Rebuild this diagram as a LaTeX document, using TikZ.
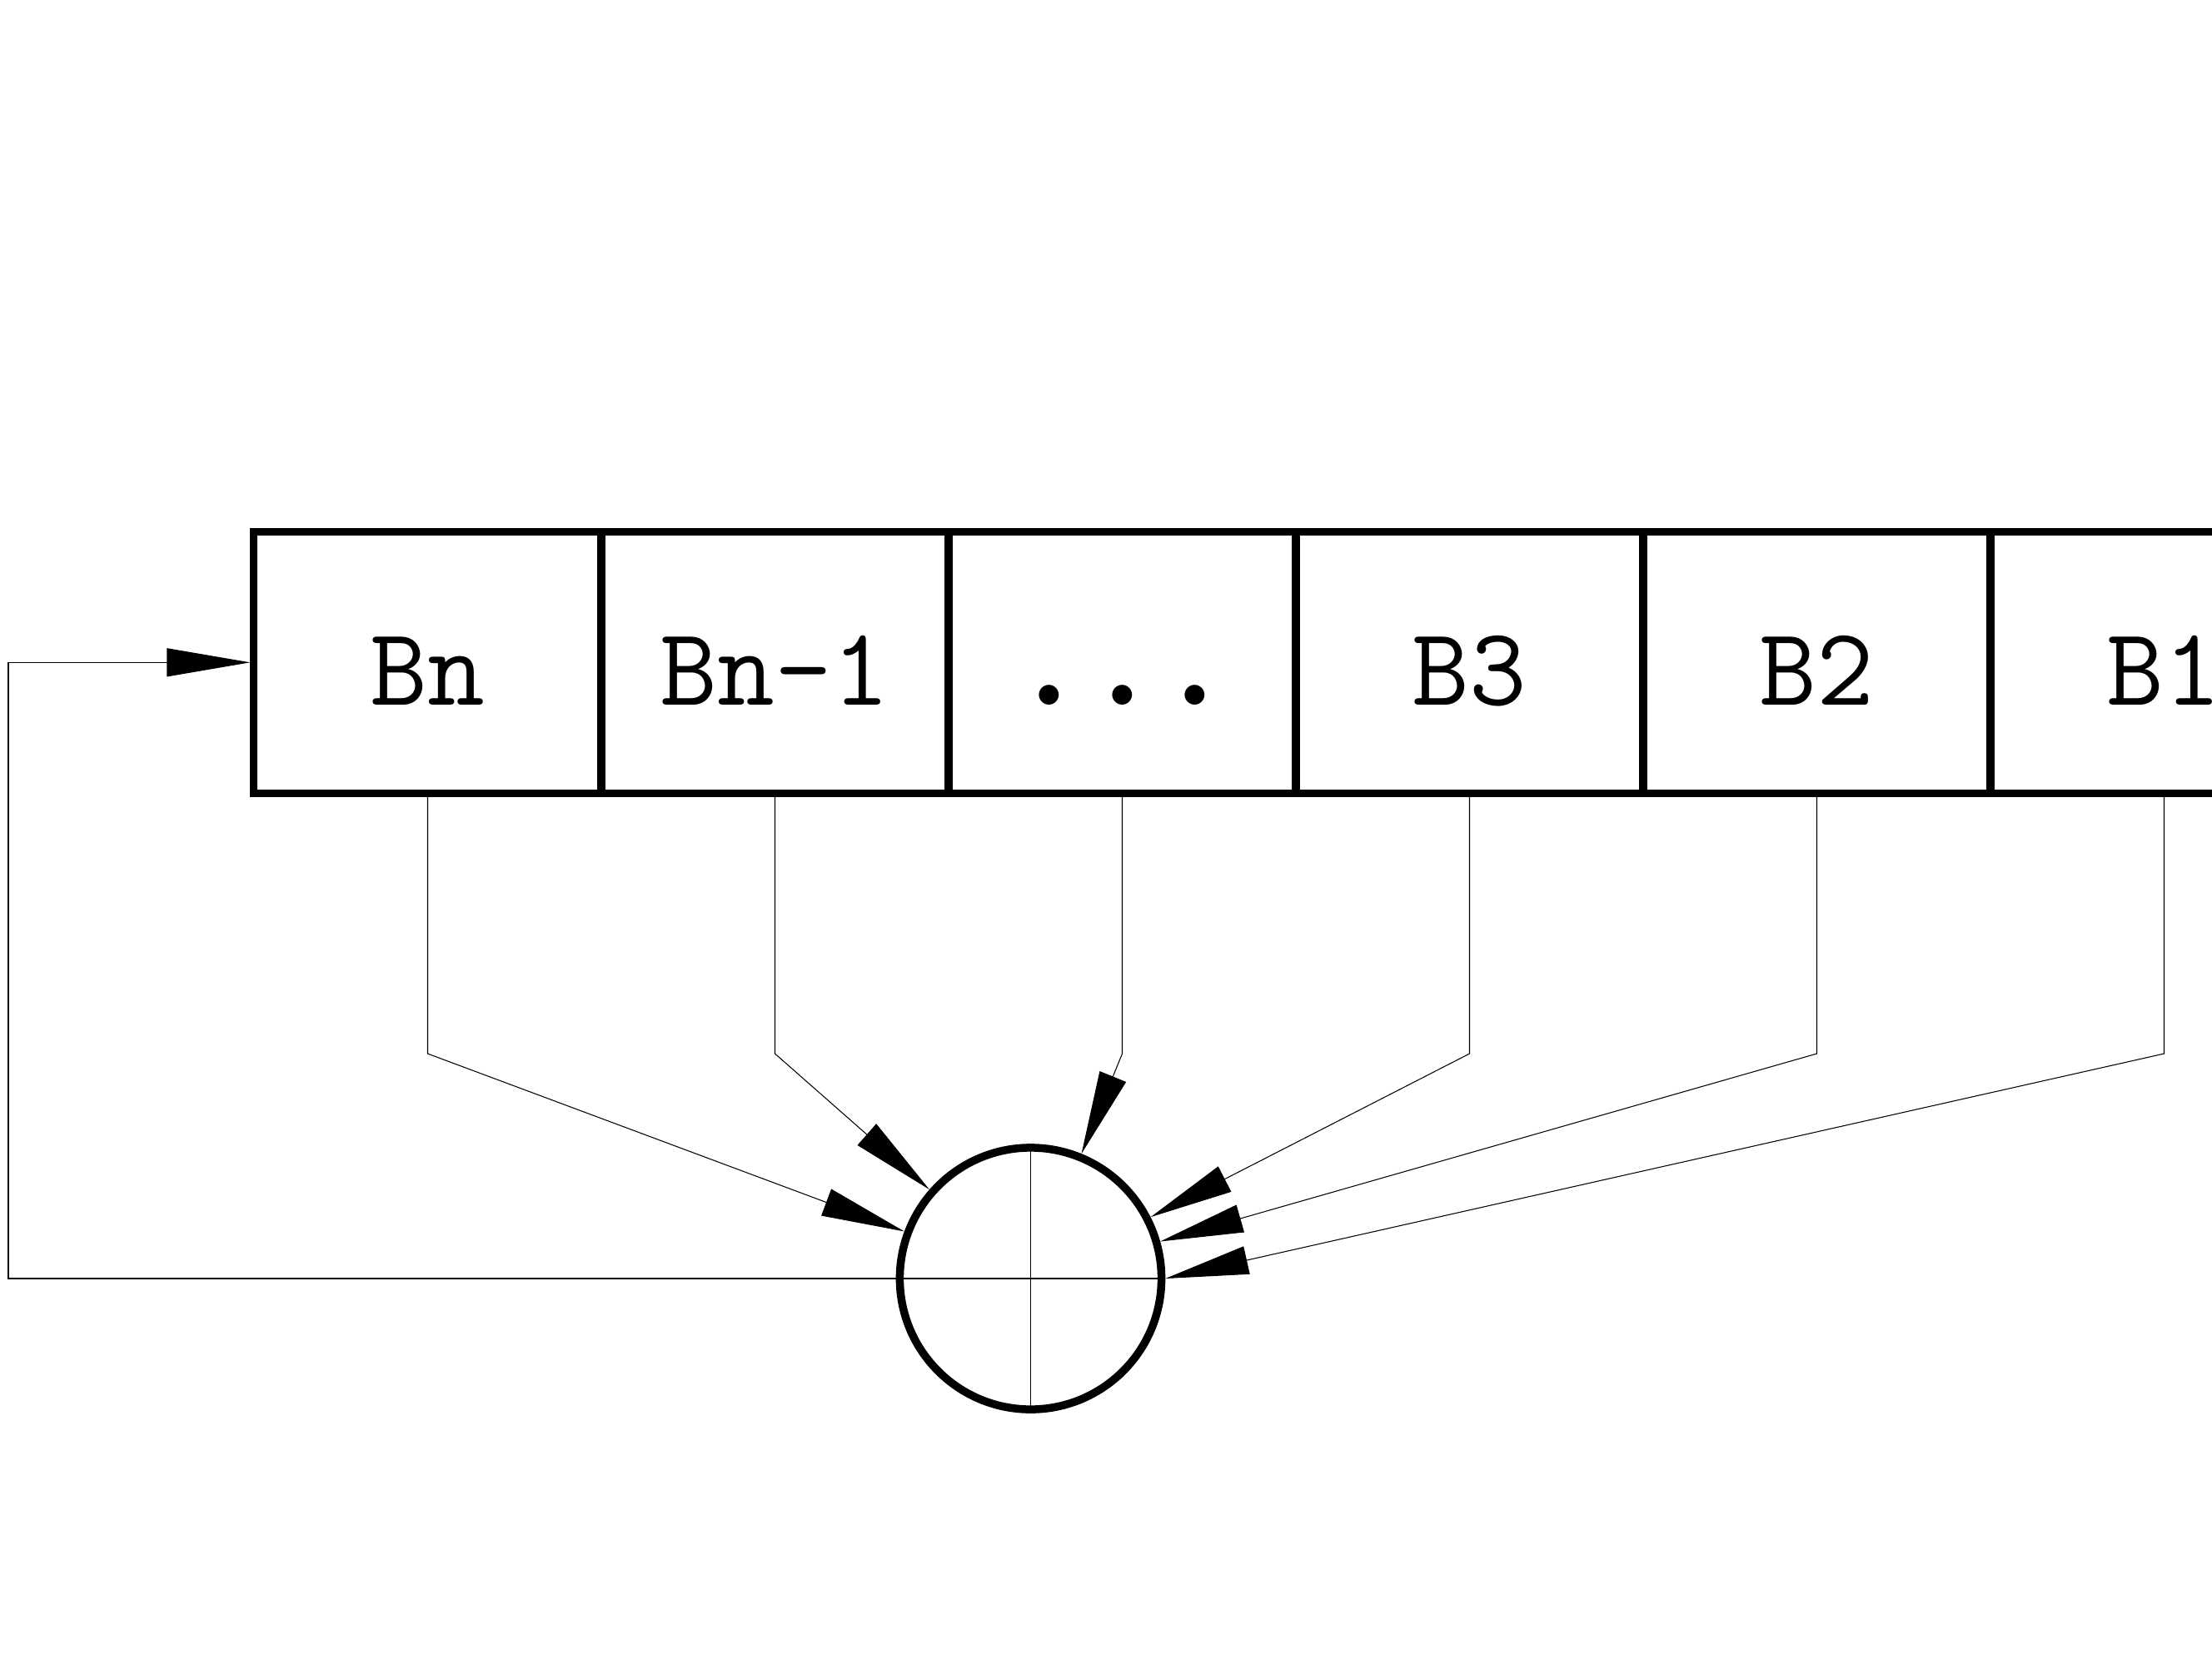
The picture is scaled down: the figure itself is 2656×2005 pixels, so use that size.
\documentclass[tikz,border=0pt]{standalone}
\usepackage{fontspec}
\usetikzlibrary{arrows.meta}
\begin{document}
\begin{tikzpicture}[x=0.01cm,y=-0.01cm,
  cell/.style={draw, line width=0.09cm, minimum width=4.17cm, minimum height=3.134cm,
    inner sep=0pt, text height=1.03cm, text depth=0pt,
    font=\fontsize{38}{40}\selectfont\ttfamily},
  link/.style={line width=0.3pt},
  tip/.style={-{Triangle[length=1cm,width=0.34cm]}},
  sumnode/.style={circle, draw, line width=0.095cm, minimum size=3.14cm, inner sep=0pt}]
\path[use as bounding box, clip] (0,0) rectangle (2656,2005);
% register cells
\node[cell] (c1) at (513.5,795.3) {Bn};
\node[cell] (c2) at (930.5,795.3) {Bn-1};
\node[cell] (c3) at (1347.5,795.3) {{\fontsize{60}{60}\selectfont.\kern-0.21cm.\kern-0.21cm.}};
\node[cell] (c4) at (1764.5,795.3) {B3};
\node[cell] (c5) at (2181.5,795.3) {B2};
\node[cell] (c6) at (2598.5,795.3) {B1};
% summing circle
\node[sumnode] (s) at (1237.5,1535) {};
\draw[link] (s.north) -- (s.south);
% bends
\coordinate (k1) at (513.5,1265);
\coordinate (k2) at (930.5,1265);
\coordinate (k3) at (1347.5,1265);
\coordinate (k4) at (1764.5,1265);
\coordinate (k5) at (2181.5,1265);
\coordinate (k6) at (2598.5,1265);
\coordinate (fb) at (10,1535);
% taps
\draw[link,tip] (c1.south) -- (k1) -- (s);
\draw[link,tip] (c2.south) -- (k2) -- (s);
\draw[link,tip] (c3.south) -- (k3) -- (s);
\draw[link,tip] (c4.south) -- (k4) -- (s);
\draw[link,tip] (c5.south) -- (k5) -- (s);
\draw[link,tip] (c6.south) -- (k6) -- (s.east);
% feedback
\draw[link,tip] (s.east) -- (fb) |- (c1.west);
\end{tikzpicture}
\end{document}
